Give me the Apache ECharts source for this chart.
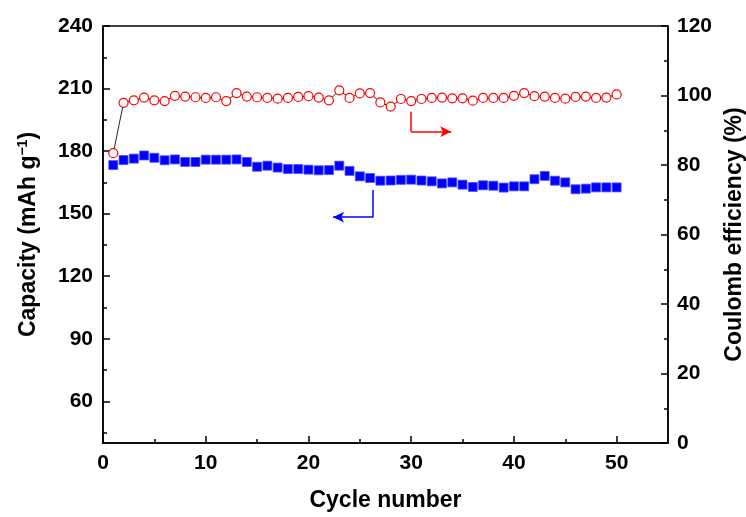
<!DOCTYPE html>
<html>
<head>
<meta charset="utf-8">
<script src="https://cdn.jsdelivr.net/npm/echarts@6/dist/echarts.min.js"></script>
<style>
  html, body { margin: 0; padding: 0; background: #fff; }
  #chart { width: 746px; height: 517px; }
</style>
</head>
<body>
<div id="chart"></div>
<script>
// cycle index
var cycles = [1,2,3,4,5,6,7,8,9,10,11,12,13,14,15,16,17,18,19,20,
              21,22,23,24,25,26,27,28,29,30,31,32,33,34,35,36,37,38,39,40,
              41,42,43,44,45,46,47,48,49,50];
// discharge capacity, mAh g-1 (left axis)
var capacity = [173.3,175.7,176.4,177.9,176.8,175.6,176.0,174.8,174.8,175.9,
                175.9,175.9,176.0,174.8,172.5,173.0,172.1,171.4,171.4,171.1,
                170.8,170.9,173.0,170.5,167.9,167.1,165.8,165.9,166.2,166.3,
                165.9,165.5,164.5,165.0,163.9,162.8,163.6,163.4,162.5,163.1,
                163.1,166.5,168.1,165.8,165.0,161.7,162.0,162.6,162.6,162.6];
// coulomb efficiency, % (right axis)
var coulomb = [83.4,97.9,98.6,99.4,98.6,98.4,99.9,99.7,99.5,99.3,
               99.5,98.4,100.7,99.7,99.5,99.3,99.1,99.3,99.6,99.8,
               99.4,98.6,101.5,99.3,100.6,100.7,98.0,96.8,99.0,98.4,
               99.0,99.3,99.4,99.2,99.2,98.5,99.3,99.3,99.3,99.9,
               100.7,99.8,99.7,99.3,99.1,99.6,99.7,99.3,99.4,100.3];

var xTicks = [0,10,20,30,40,50];
var xMinor = [5,15,25,35,45];
var leftTicks = [60,90,120,150,180,210,240];
var leftMinor = [45,75,105,135,165,195,225];

// arrow annotations: [x, yTop, yBottom, xEnd] in data units
var redArrow = [30.0, 95.3, 89.6, 33.9];   // right axis
var blueArrow = [26.3, 161.4, 148.3, 22.4]; // left axis

var font = 'Liberation Sans, Arial, sans-serif';
var labelStyle = { color: '#000', fontFamily: font, fontWeight: 'bold', fontSize: 21 };
var nameStyle = { color: '#000', fontFamily: font, fontWeight: 'bold', fontSize: 23 };
var axisLine = { show: true, onZero: false, lineStyle: { color: '#000', width: 1.5 } };

function arrowLines(a, color) {
  return {
    silent: true,
    symbol: ['none', 'none'],
    label: { show: false },
    lineStyle: { color: color, width: 1.5, type: 'solid' },
    emphasis: { disabled: true },
    animation: false,
    data: [
      [{ coord: [a[0], a[1]] }, { coord: [a[0], a[2]] }],
      [{ coord: [a[0], a[2]] }, { coord: [a[3], a[2]], symbol: 'arrow', symbolSize: [8, 11] }]
    ]
  };
}

var chart = echarts.init(document.getElementById('chart'));
var option = {
  backgroundColor: '#fff',
  animation: false,
  grid: {
    left: 103, right: 78, top: 26, bottom: 74,
    outerBoundsMode: 'none', containLabel: false,
    show: true, borderColor: '#000', borderWidth: 1.5, backgroundColor: 'transparent'
  },
  xAxis: [
    {
      type: 'value', min: 0, max: 55,
      name: 'Cycle number', nameLocation: 'middle', nameGap: 46,
      nameTextStyle: nameStyle,
      axisLine: axisLine,
      axisTick: { show: true, inside: true, length: 7, customValues: xTicks, lineStyle: { color: '#000', width: 1.5 } },
      axisLabel: Object.assign({ margin: 10, customValues: xTicks }, labelStyle),
      splitLine: { show: false }
    },
    {
      type: 'value', min: 0, max: 55, position: 'bottom',
      axisLine: { show: false },
      axisTick: { show: true, inside: true, length: 4, customValues: xMinor, lineStyle: { color: '#000', width: 1.5 } },
      axisLabel: { show: false },
      splitLine: { show: false }
    }
  ],
  yAxis: [
    {
      type: 'value', min: 40, max: 240, position: 'left',
      name: 'Capacity (mAh g{sup|−1})', nameLocation: 'middle', nameGap: 62, nameRotate: 90,
      nameTextStyle: Object.assign({
        rich: { sup: { fontFamily: font, fontWeight: 'bold', fontSize: 14, color: '#000', padding: [0, 0, 11, 0] } }
      }, nameStyle),
      axisLine: axisLine,
      axisTick: { show: true, inside: true, length: 7, customValues: leftTicks, lineStyle: { color: '#000', width: 1.5 } },
      axisLabel: Object.assign({ margin: 10, customValues: leftTicks }, labelStyle),
      splitLine: { show: false }
    },
    {
      type: 'value', min: 0, max: 120, interval: 20, position: 'right',
      name: 'Coulomb efficiency (%)', nameLocation: 'middle', nameGap: 51, nameRotate: 90,
      nameTextStyle: nameStyle,
      axisLine: axisLine,
      axisTick: { show: true, inside: true, length: 7, lineStyle: { color: '#000', width: 1.5 } },
      minorTick: { show: true, splitNumber: 2, length: 4, lineStyle: { color: '#000', width: 1.5 } },
      axisLabel: Object.assign({ margin: 9 }, labelStyle),
      splitLine: { show: false },
      minorSplitLine: { show: false }
    },
    {
      type: 'value', min: 40, max: 240, position: 'left',
      axisLine: { show: false },
      axisTick: { show: true, inside: true, length: 4, customValues: leftMinor, lineStyle: { color: '#000', width: 1.5 } },
      axisLabel: { show: false },
      splitLine: { show: false }
    }
  ],
  series: [
    {
      name: 'Capacity',
      type: 'line',
      xAxisIndex: 0, yAxisIndex: 0,
      data: cycles.map(function (c, i) { return [c, capacity[i]]; }),
      symbol: 'rect', symbolSize: 9, showAllSymbol: true,
      itemStyle: { color: '#0000ff', borderColor: '#5050ff', borderWidth: 0.8 },
      lineStyle: { width: 0, opacity: 0 },
      markLine: arrowLines(blueArrow, '#0000ff'),
      z: 2
    },
    {
      name: 'Coulomb efficiency',
      type: 'line',
      xAxisIndex: 0, yAxisIndex: 1,
      data: cycles.map(function (c, i) { return [c, coulomb[i]]; }),
      symbol: 'circle', symbolSize: 9, showAllSymbol: true,
      itemStyle: { color: '#fff', borderColor: '#ff0000', borderWidth: 1.2 },
      lineStyle: { color: '#222', width: 1 },
      markLine: arrowLines(redArrow, '#ff0000'),
      z: 3
    }
  ]
};
chart.setOption(option);
</script>
</body>
</html>
